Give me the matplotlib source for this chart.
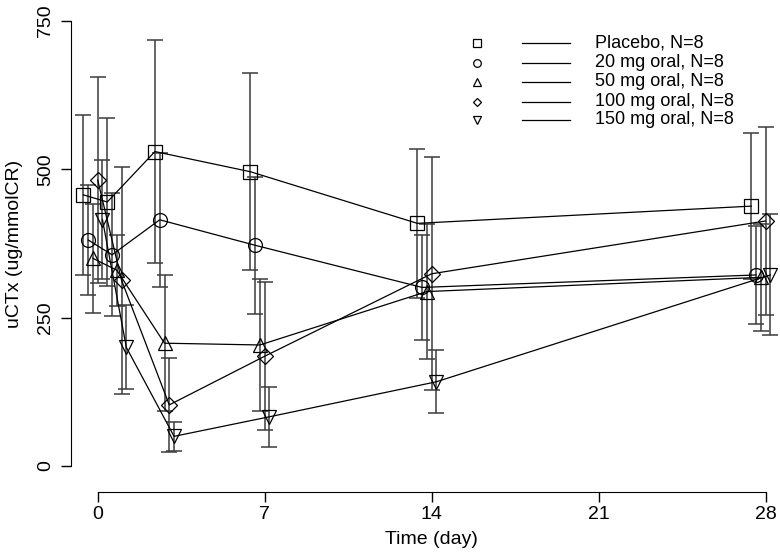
import numpy as np
import matplotlib.pyplot as plt

plt.rcParams['font.family'] = ['Liberation Sans', 'DejaVu Sans']

# nominal sampling days
days = [0, 1, 3, 7, 14, 28]

labels = ['Placebo, N=8', '20 mg oral, N=8', '50 mg oral, N=8',
          '100 mg oral, N=8', '150 mg oral, N=8']
markers = ['s', 'o', '^', 'D', 'v']

# mean uCTx per group
placebo = [457, 445, 530, 496, 409, 438]
mg20 = [381, 356, 415, 372, 301, 322]
mg50 = [350, 330, 207, 204, 294, 318]
mg100 = [482, 313, 103, 185, 324, 413]
mg150 = [415, 200, 50, 83, 142, 322]

# SD per group
placebo_sd = [135, 141, 188, 166, 125, 123]
mg20_sd = [93, 104, 113, 115, 88, 82]
mg50_sd = [92, 60, 115, 112, 114, 90]
mg100_sd = [173, 191, 79, 125, 196, 158]
mg150_sd = [100, 71, 24, 51, 53, 102]

means = [placebo, mg20, mg50, mg100, mg150]
sds = [placebo_sd, mg20_sd, mg50_sd, mg100_sd, mg150_sd]
shift = [-0.6, -0.4, -0.2, 0.0, 0.2]  # dodge so bars don't overlap

W, H = 780, 553
fig = plt.figure(figsize=(W / 100, H / 100), dpi=100)
ax = fig.add_axes([71 / W, (H - 492) / H, (778 - 71) / W, (492 - 5) / H])
ax.set_xlim(-1.12, 28.52)
ax.set_ylim(-43.8, 777)

for i in range(5):
    x = np.array(days) + shift[i]
    ax.errorbar(x, means[i], yerr=sds[i], fmt='none', ecolor='#3c3c3c',
                elinewidth=1.1, capsize=5.5, capthick=1.1, zorder=2)
    ms = 8 if markers[i] == 'D' else 10
    ax.plot(x, means[i], color='black', lw=0.9, marker=markers[i], ms=ms,
            mfc='none', mec='black', mew=0.9, zorder=3)

# R style detached axes
for s in ['top', 'right']:
    ax.spines[s].set_visible(False)
ax.spines['left'].set_bounds(0, 750)
ax.spines['bottom'].set_bounds(0, 28)
ax.set_yticks([0, 250, 500, 750])
ax.set_xticks([0, 7, 14, 21, 28])
ax.tick_params(direction='out', length=7, width=1.0, labelsize=14)
ax.tick_params(axis='x', pad=3)
ax.tick_params(axis='y', pad=5)
for t in ax.get_yticklabels():
    t.set_rotation(90)
    t.set_va('center')

ax.set_ylabel('uCTx (ug/mmolCR)', fontsize=14, va='center', ha='center')
ax.yaxis.set_label_coords((15 - 71) / 707, (375 + 43.8) / (777 + 43.8))
ax.set_xlabel('Time (day)', fontsize=14, va='center')
ax.xaxis.set_label_coords((14 + 1.12) / 29.64, -(540 - 492) / 487)

# legend drawn by hand (symbol, line, text columns)
rows = [43, 62.5, 82, 101.5, 120]
for i in range(5):
    yf = (H - rows[i]) / H
    ms = 4.5 if markers[i] == 'D' else 5.5
    fig.lines.append(plt.Line2D([477 / W], [yf], marker=markers[i], ms=ms,
                                mfc='none', mec='black', mew=0.9,
                                transform=fig.transFigure))
    fig.lines.append(plt.Line2D([522 / W, 570 / W], [yf, yf], color='black',
                                lw=0.9, transform=fig.transFigure))
    fig.text(595 / W, yf, labels[i], fontsize=13, va='center', ha='left')

plt.savefig('out.png', dpi=100)
